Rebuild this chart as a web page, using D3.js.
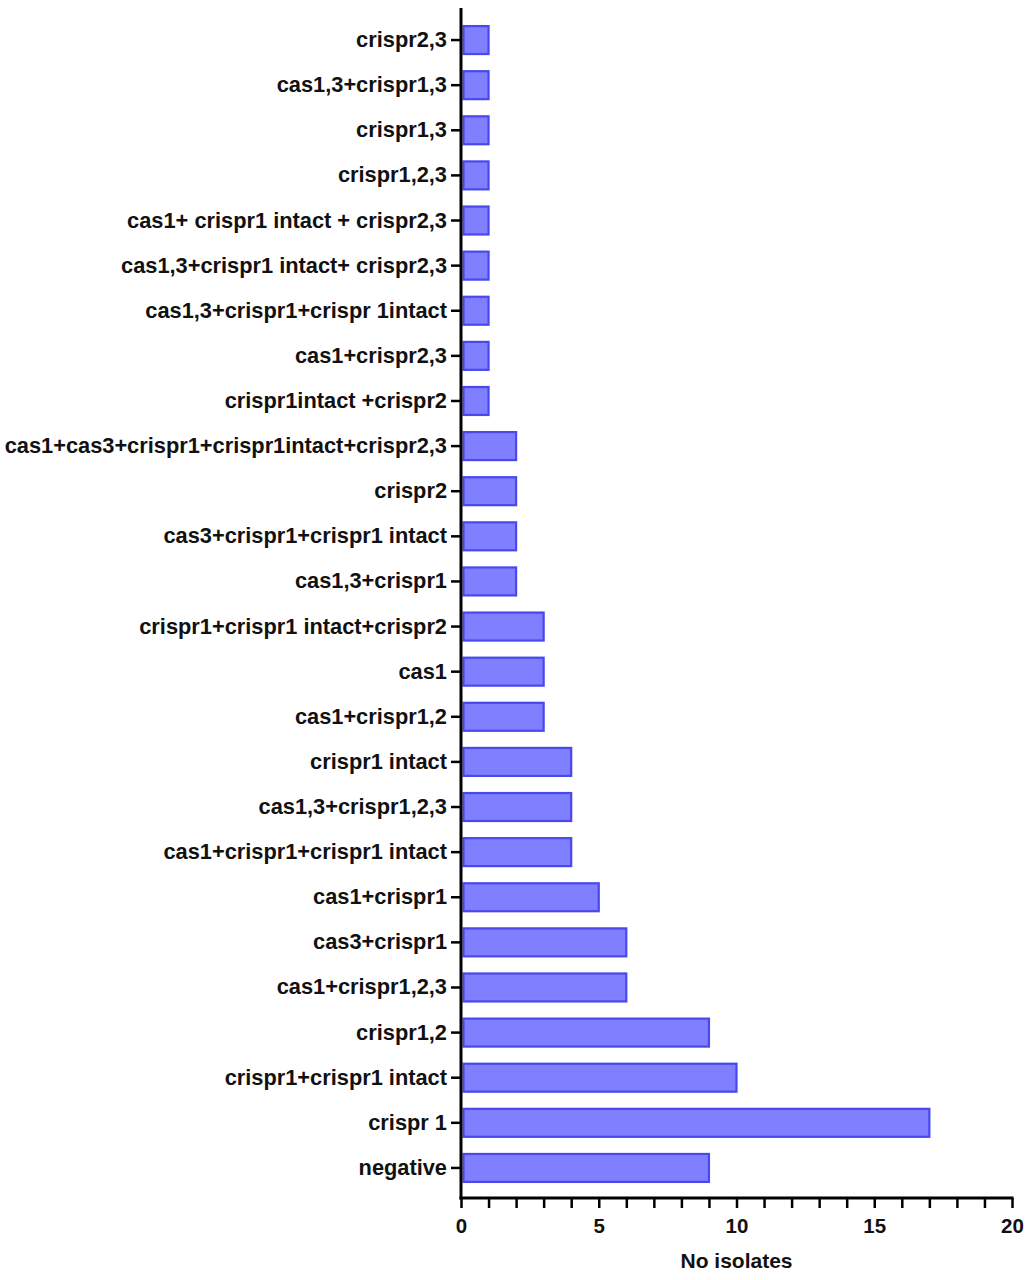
<!DOCTYPE html>
<html>
<head>
<meta charset="utf-8">
<script src="https://cdn.jsdelivr.net/npm/d3@7"></script>
<style>
  body { margin: 0; background: #fff; }
  svg { display: block; font-family: "Liberation Sans", Arial, sans-serif; }
</style>
</head>
<body>
<svg id="chart"></svg>
<script>
// categories top to bottom, as in the figure
var categories = [
  "crispr2,3", "cas1,3+crispr1,3", "crispr1,3", "crispr1,2,3",
  "cas1+ crispr1 intact + crispr2,3", "cas1,3+crispr1 intact+ crispr2,3",
  "cas1,3+crispr1+crispr 1intact", "cas1+crispr2,3", "crispr1intact +crispr2",
  "cas1+cas3+crispr1+crispr1intact+crispr2,3", "crispr2", "cas3+crispr1+crispr1 intact",
  "cas1,3+crispr1", "crispr1+crispr1 intact+crispr2", "cas1", "cas1+crispr1,2",
  "crispr1 intact", "cas1,3+crispr1,2,3", "cas1+crispr1+crispr1 intact",
  "cas1+crispr1", "cas3+crispr1", "cas1+crispr1,2,3", "crispr1,2",
  "crispr1+crispr1 intact", "crispr 1", "negative"
];
var isolates = [1, 1, 1, 1, 1, 1, 1, 1, 1, 2, 2, 2, 2, 3, 3, 3, 4, 4, 4, 5, 6, 6, 9, 10, 17, 9];
var xTicks = [0, 5, 10, 15, 20];
var xLabel = "No isolates";

const W = 1029, H = 1280;
const margin = { top: 8, right: 17, bottom: 82, left: 461 };
const width = W - margin.left - margin.right,
  height = H - margin.top - margin.bottom;

const svg = d3.select("#chart").attr("width", W).attr("height", H);
const g = svg.append("g")
  .attr("transform", "translate(" + margin.left + "," + margin.top + ")");

const x = d3.scaleLinear().domain([0, 20]).range([0, width]);
const y = d3.scaleBand().domain(categories).range([9.5, 1182.5]).paddingInner(0.38).paddingOuter(0.19);

// bars
g.selectAll("rect.bar")
  .data(categories)
  .enter().append("rect")
  .attr("class", "bar")
  .attr("x", x(0) + 2.5)
  .attr("y", function (d) { return y(d); })
  .attr("width", function (d, i) { return x(isolates[i]) - x(0) - 2.5; })
  .attr("height", y.bandwidth())
  .attr("fill", "#7f7fff")
  .attr("stroke", "#4848ec")
  .attr("stroke-width", 2.2);

// y axis
const yAxis = g.append("g")
  .call(d3.axisLeft(y).tickSize(10).tickPadding(4));
yAxis.select(".domain").remove();
yAxis.append("line")
  .attr("x1", 0).attr("x2", 0).attr("y1", 0).attr("y2", height + 1.5)
  .attr("stroke", "#000").attr("stroke-width", 3);
yAxis.selectAll(".tick line").attr("stroke-width", 2.5);
yAxis.selectAll(".tick text")
  .attr("font-size", 21.8).attr("font-weight", "bold").attr("fill", "#111");

// x axis with minor ticks every 1
const xAxis = g.append("g")
  .attr("transform", "translate(0," + height + ")")
  .call(d3.axisBottom(x).tickValues(d3.range(0, 21)).tickSize(10).tickPadding(10)
    .tickFormat(function (d) { return xTicks.indexOf(d) >= 0 ? d : ""; }));
xAxis.select(".domain").remove();
xAxis.append("line")
  .attr("x1", -1.5).attr("x2", width + 1.5).attr("y1", 0).attr("y2", 0)
  .attr("stroke", "#000").attr("stroke-width", 3);
xAxis.selectAll(".tick line").attr("stroke-width", 2.5);
xAxis.selectAll(".tick text")
  .attr("font-size", 20.5).attr("font-weight", "bold").attr("fill", "#111");

svg.append("text")
  .attr("x", margin.left + width / 2)
  .attr("y", H - 12)
  .attr("text-anchor", "middle")
  .attr("font-size", 21)
  .attr("font-weight", "bold")
  .attr("fill", "#111")
  .text(xLabel);
</script>
</body>
</html>
